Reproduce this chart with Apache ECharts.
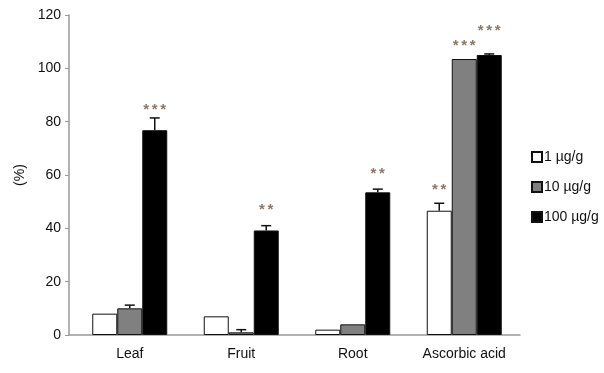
<!DOCTYPE html>
<html><head><meta charset="utf-8">
<script src="https://cdn.jsdelivr.net/npm/echarts@6/dist/echarts.min.js"></script>
<style>html,body{margin:0;padding:0;background:#fff}#c{width:604px;height:373px}</style>
</head><body><div id="c"></div>
<script>
var categories = ['Leaf', 'Fruit', 'Root', 'Ascorbic acid'];
var seriesNames = ['1 \u00b5g/g', '10 \u00b5g/g', '100 \u00b5g/g'];
var vals1 = [8, 7, 2, 46.6];
var vals10 = [10, 1, 4, 103.5];
var vals100 = [76.8, 39.2, 53.5, 105];
var err1 = [0, 0, 0, 2.8];
var err10 = [1.2, 1, 0, 0];
var err100 = [4.6, 1.8, 1.2, 0.4];
var sig1 = ['', '', '', '**'];
var sig10 = ['', '', '', '***'];
var sig100 = ['***', '**', '**', '***'];
var sigLevel1 = [0, 0, 0, 55];
var sigLevel10 = [0, 0, 0, 109];
var sigLevel100 = [85, 47.5, 61, 114.7];
var yTicks = [0, 20, 40, 60, 80, 100, 120];

var values = [vals1, vals10, vals100];
var errs = [err1, err10, err100];
var sigs = [sig1, sig10, sig100];
var sigLevels = [sigLevel1, sigLevel10, sigLevel100];
var colors = ['#ffffff', '#808080', '#000000'];
var BW = 25;
var FONT = '"Liberation Sans", Arial, sans-serif';

var chart = echarts.init(document.getElementById('c'));
var series = [];
values.forEach(function (v, s) {
  series.push({
    name: seriesNames[s], type: 'bar', data: v, barWidth: BW, barGap: '0%',
    xAxisIndex: 1, yAxisIndex: 1,
    itemStyle: { color: colors[s], borderColor: '#111', borderWidth: 1 }
  });
});
values.forEach(function (v, s) {
  var data = v.map(function (val, i) { return [i, val, errs[s][i], sigLevels[s][i]]; });
  series.push({
    type: 'custom', silent: true, z: 5, xAxisIndex: 1, yAxisIndex: 1,
    data: data,
    renderItem: function (params, api) {
      var i = api.value(0), val = api.value(1), e = api.value(2), lv = api.value(3);
      var sig = sigs[s][i];
      var off = (s - 1) * BW;
      var base = api.coord([i, val]);
      var x = base[0] + off;
      var kids = [];
      if (e > 0) {
        var top = api.coord([i, val + e]);
        kids.push({ type: 'line', shape: { x1: x, y1: base[1], x2: x, y2: top[1] }, style: { stroke: '#111', lineWidth: 1.5 } });
        kids.push({ type: 'line', shape: { x1: x - 5, y1: top[1], x2: x + 5, y2: top[1] }, style: { stroke: '#111', lineWidth: 1.5 } });
      }
      if (sig) {
        var sp = api.coord([i, lv]);
        var n = sig.length;
        for (var k = 0; k < n; k++) {
          kids.push({ type: 'text', x: x + (k - (n - 1) / 2) * 8.5, y: sp[1] + 2,
            style: { text: sig.charAt(k), fill: '#8a7868', font: 'bold 15px ' + FONT, align: 'center', verticalAlign: 'middle' } });
        }
      }
      return { type: 'group', children: kids };
    }
  });
});

chart.setOption({
  animation: false,
  backgroundColor: '#fff',
  grid: [
    { left: 69, right: 84, top: 15, bottom: 38 },
    { left: 74, right: 84, top: 15, bottom: 38 }
  ],
  legend: {
    orient: 'vertical', left: 526, top: 145, itemWidth: 10, itemHeight: 10, itemGap: 16,
    data: seriesNames.map(function (n) { return { name: n, icon: 'rect' }; }),
    textStyle: { fontSize: 14, color: '#111', fontFamily: FONT, padding: [0, 0, 0, -3] }
  },
  xAxis: [{
    type: 'category', gridIndex: 0, data: categories,
    axisLine: { lineStyle: { color: '#999', width: 1.5 } },
    axisTick: { show: false },
    axisLabel: { show: false }
  }, {
    type: 'category', gridIndex: 1, data: categories,
    axisLine: { show: false },
    axisTick: { show: false },
    axisLabel: { fontSize: 14, color: '#111', margin: 12, fontFamily: FONT }
  }],
  yAxis: [{
    type: 'value', gridIndex: 0, min: 0, max: 120, interval: 20,
    name: '(%)', nameLocation: 'middle', nameGap: 42, nameRotate: 90,
    nameTextStyle: { fontSize: 14, color: '#111', fontFamily: FONT },
    axisLine: { show: true, lineStyle: { color: '#999', width: 1.5 } },
    axisTick: { show: true, length: 4, lineStyle: { color: '#999' } },
    splitLine: { show: false },
    axisLabel: { fontSize: 14, color: '#111', margin: 8, fontFamily: FONT,
      formatter: function (v) { return yTicks.indexOf(v) >= 0 ? String(v) : ''; } }
  }, {
    type: 'value', gridIndex: 1, min: 0, max: 120, interval: 20, show: false,
    splitLine: { show: false }
  }],
  series: series
});
</script></body></html>
